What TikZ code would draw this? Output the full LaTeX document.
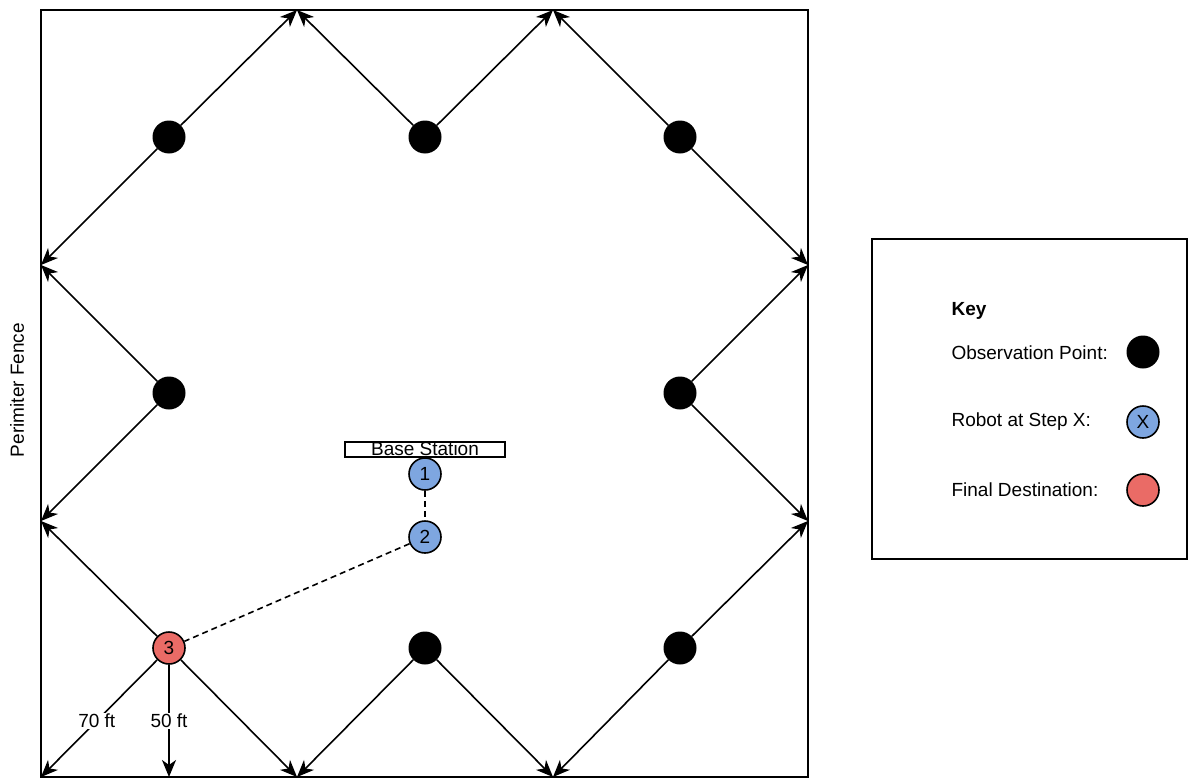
\documentclass[tikz,border=0pt]{standalone}
\usepackage{fontspec}
\setmainfont{Liberation Sans}
\usetikzlibrary{arrows.meta, positioning}
\definecolor{robotblue}{HTML}{7EA6E0}
\definecolor{destred}{HTML}{EA6B66}
\tikzset{
    lbl/.style={font=\fontsize{19}{22}\selectfont},
    obspoint/.style={circle, fill=black, minimum size=33pt, inner sep=0pt},
    robot/.style={lbl, circle, draw, line width=1.6pt, fill=robotblue, minimum size=32pt, inner sep=0pt},
    finaldest/.style={robot, fill=destred},
    patrol/.style={-{Stealth[length=17pt, width=14pt, inset=5pt]}, line width=1.6pt},
    route/.style={line width=1.6pt, dash pattern=on 6pt off 4pt},
    keytext/.style={lbl, anchor=west},
    distlabel/.style={lbl, fill=white, inner sep=1pt},
}

\begin{document}
\begin{tikzpicture}[x=1pt, y=-1pt]
    \useasboundingbox (0,0) rectangle (1188,779);

    % perimeter
    \draw[line width=1.8pt] (41,10) rectangle (808,777);
    \node[lbl, rotate=90] (fence) at (17,390) {Perimiter Fence};

    % points on the fence
    \coordinate (t1) at (297,10);
    \coordinate (t2) at (553,10);
    \coordinate (l1) at (41,265);
    \coordinate (l2) at (41,521);
    \coordinate (r1) at (808,265);
    \coordinate (r2) at (808,521);
    \coordinate (b1) at (297,777);
    \coordinate (b2) at (553,777);
    \coordinate (bl) at (41,777);
    \coordinate (bm) at (169,777);

    % observation points
    \node[obspoint] (o1) at (169,137) {};
    \node[obspoint] (o2) at (425,137) {};
    \node[obspoint] (o3) at (680,137) {};
    \node[obspoint] (o4) at (169,393) {};
    \node[obspoint] (o5) at (680,393) {};
    \node[obspoint] (o6) at (425,648) {};
    \node[obspoint] (o7) at (680,648) {};

    % base station and robot steps
    \node[lbl, draw, line width=1.6pt, minimum width=160pt, minimum height=15pt,
          inner sep=0pt, text height=13pt, text depth=1pt] (base) at (425,449.5) {Base Station};
    \node[robot] (s1) at (425,474) {1};
    \node[robot] (s2) at (425,537) {2};
    \node[finaldest] (s3) at (169,648) {3};

    \draw[patrol] (o1) -- (l1);
    \draw[patrol] (o1) -- (t1);
    \draw[patrol] (o2) -- (t1);
    \draw[patrol] (o2) -- (t2);
    \draw[patrol] (o3) -- (t2);
    \draw[patrol] (o3) -- (r1);
    \draw[patrol] (o4) -- (l1);
    \draw[patrol] (o4) -- (l2);
    \draw[patrol] (o5) -- (r1);
    \draw[patrol] (o5) -- (r2);
    \draw[patrol] (o6) -- (b1);
    \draw[patrol] (o6) -- (b2);
    \draw[patrol] (o7) -- (b2);
    \draw[patrol] (o7) -- (r2);
    \draw[patrol] (s3) -- (l2);
    \draw[patrol] (s3) -- (b1);
    \draw[patrol] (s3) -- node[distlabel, pos=0.52] (d70) {70 ft} (bl);
    \draw[patrol] (s3) -- node[distlabel, pos=0.5] (d50) {50 ft} (bm);

    \draw[route] (s1) -- (s2);
    \draw[route] (s2) -- (s3);

    % key
    \draw[line width=1.6pt] (872,239) rectangle (1187,559);
    \node[keytext, font=\fontsize{19}{22}\selectfont\bfseries] (key) at (948,311) {Key};
    \node[keytext] (kobs) at (948,353) {Observation Point:};
    \node[keytext] (krobot) at (948,422) {Robot at Step X:};
    \node[keytext] (kdest) at (948,490) {Final Destination:};
    \node[obspoint] (kobspt) at (1143,352) {};
    \node[robot] (krobotpt) at (1143,422) {X};
    \node[finaldest] (kdestpt) at (1143,490) {};
\end{tikzpicture}
\end{document}
